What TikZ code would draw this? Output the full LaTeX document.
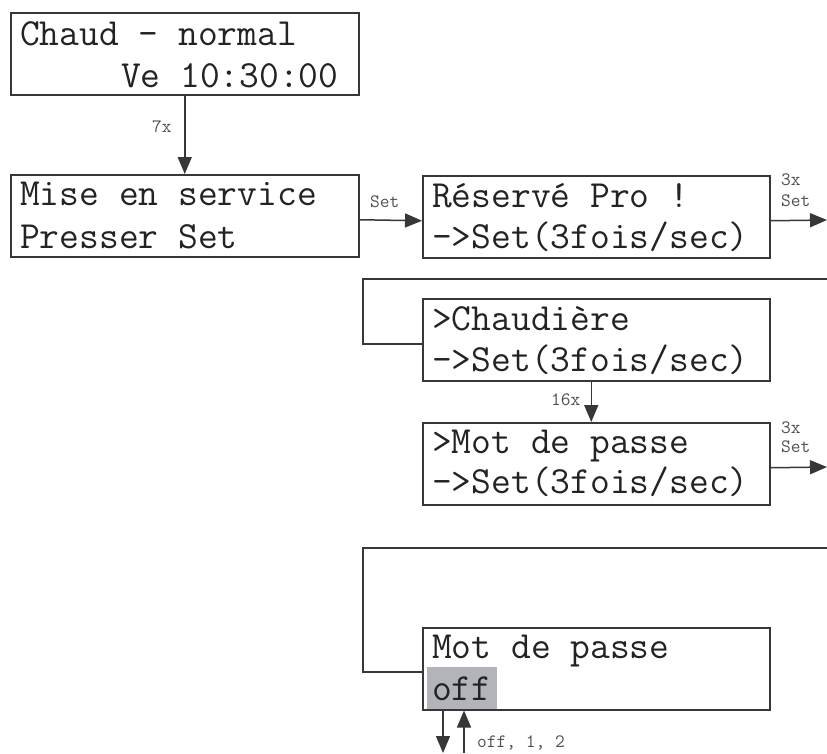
\documentclass[tikz,border=0pt]{standalone}
\usetikzlibrary{arrows.meta}
\definecolor{linec}{RGB}{55,55,55}
\definecolor{txtc}{RGB}{35,35,35}
\definecolor{lblc}{RGB}{80,80,80}
\definecolor{hilite}{RGB}{178,180,186}
\tikzset{
  lcdbox/.style={draw=linec, line width=1.5pt, rectangle, anchor=north west, inner sep=0pt, minimum width=347pt, minimum height=82pt},
  lcd/.style={anchor=base west, inner sep=0pt, text=txtc, font=\ttfamily\fontsize{38.4}{44}\selectfont},
  lbl/.style={anchor=base west, inner sep=0pt, text=lblc, font=\ttfamily\fontsize{18.9}{21}\selectfont},
  conn/.style={draw=linec, line width=1.5pt},
  arr/.style={conn, -{Triangle[length=17pt,width=14pt]}}
}
\begin{document}
\begin{tikzpicture}[x=1pt,y=-1pt]
\useasboundingbox (0,0) rectangle (827,753);
% boxes
\node[lcdbox, minimum width=348pt] (b1) at (10,12) {};
\node[lcdbox, minimum width=348pt] (b2) at (10,174) {};
\node[lcdbox] (b3) at (422,175) {};
\node[lcdbox] (b4) at (422,298) {};
\node[lcdbox] (b5) at (422,422) {};
\fill[hilite] (427,667) rectangle (497,709);
\node[lcdbox] (b6) at (422,627) {};
% texts
\node[lcd] (t1a) at (20,45) {Chaud - normal};
\node[lcd] (t1b) at (120.8,87) {Ve 10:30:00};
\node[lcd] (t2a) at (20,205) {Mise en service};
\node[lcd] (t2b) at (20,248) {Presser Set};
\node[lcd] (t3a) at (432,207) {Réservé Pro !};
\node[lcd] (t3b) at (432,248) {->Set(3fois/sec)};
\node[lcd] (t4a) at (432,330) {>Chaudière};
\node[lcd] (t4b) at (432,371) {->Set(3fois/sec)};
\node[lcd] (t5a) at (432,453) {>Mot de passe};
\node[lcd] (t5b) at (432,493) {->Set(3fois/sec)};
\node[lcd] (t6a) at (432,658) {Mot de passe};
\node[lcd] (t6b) at (432,700) {off};
% coordinates for free ends
\coordinate (r1) at (827,220);
\coordinate (r2) at (827,279);
\coordinate (c2) at (363,279);
\coordinate (r3) at (827,467);
\coordinate (r4) at (827,548);
\coordinate (c4) at (363,548);
\coordinate (d1) at (443,753);
\coordinate (u1) at (464,753);
% connectors
\draw[arr] (b1.south) -- (b2.north);
\draw[arr] ([yshift=-4pt]b2.east) -- ([yshift=-4pt]b3.west);
\draw[arr] ([yshift=-4pt]b3.east) -- (r1);
\draw[conn] (r2) -- (c2) |- ([yshift=-4pt]b4.west);
\draw[arr] ([xshift=-5pt]b4.south) -- ([xshift=-5pt]b5.north);
\draw[arr] ([yshift=-4pt]b5.east) -- (r3);
\draw[conn] (r4) -- (c4) |- ([yshift=-3pt]b6.west);
\draw[arr] (d1 |- b6.south) -- (d1);
\draw[arr] (u1) -- (u1 |- b6.south);
% labels
\node[lbl] (l1) at (152,132) {7x};
\node[lbl] (l2) at (370,207) {Set};
\node[lbl] (l3a) at (781,185) {3x};
\node[lbl] (l3b) at (781,206) {Set};
\node[lbl] (l4) at (551,405) {16x};
\node[lbl] (l5a) at (781,433) {3x};
\node[lbl] (l5b) at (781,452) {Set};
\node[lbl] (l6) at (477,747) {off, 1, 2};
\end{tikzpicture}
\end{document}
